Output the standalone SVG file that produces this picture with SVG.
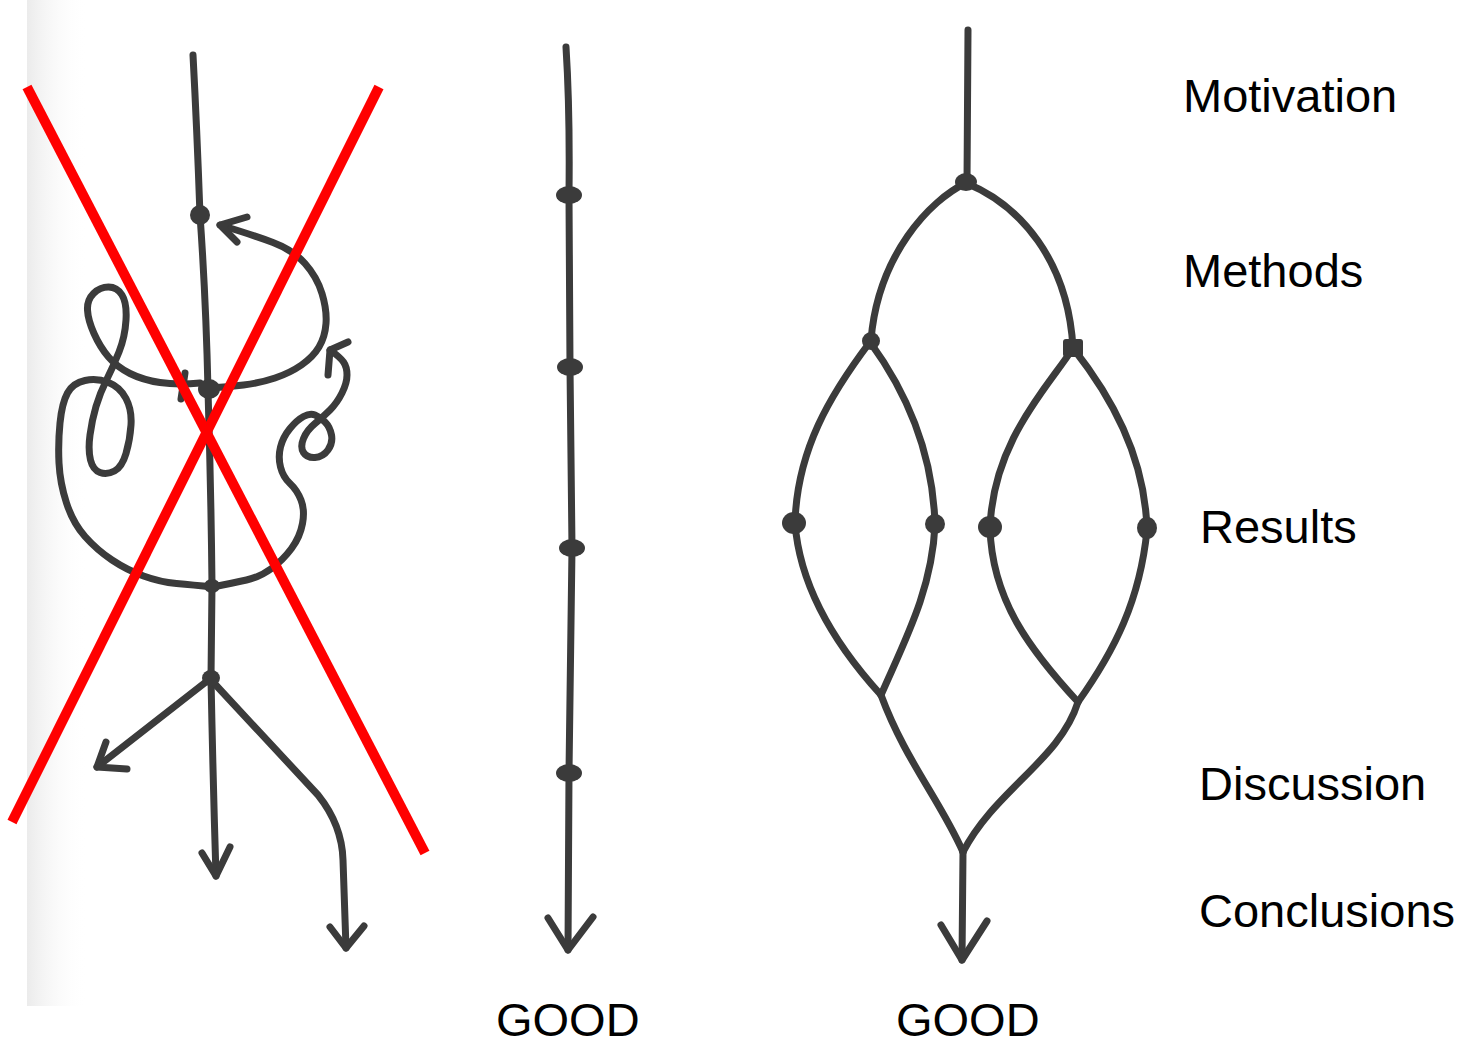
<svg xmlns="http://www.w3.org/2000/svg" width="1470" height="1044" viewBox="0 0 1470 1044">
<defs>
<linearGradient id="scan" x1="0" y1="0" x2="1" y2="0">
<stop offset="0" stop-color="#ebebeb"/>
<stop offset="1" stop-color="#ffffff" stop-opacity="0"/>
</linearGradient>
<style>
.ln{fill:none;stroke:#3b3b3b;stroke-width:7;stroke-linecap:round;stroke-linejoin:round}
.dot{fill:#3b3b3b}
.red{fill:none;stroke:#ff0000;stroke-width:10}
.lbl{font-family:"Liberation Sans",Arial,sans-serif;font-size:47px;fill:#000}
</style>
</defs>
<rect width="1470" height="1044" fill="#fff"/>
<rect x="27" y="0" width="60" height="1006" fill="url(#scan)"/>

<g id="connectors">
<g id="bad-connectors">
<path class="ln" d="M193,55 Q197,130 200,215 Q206,300 208,390 Q211,490 212,585 L211,678 Q213,780 216,876"/>
<path class="ln" d="M202,853 L216,876 L230,847"/>
<path class="ln" d="M211,678 L97,767"/>
<path class="ln" d="M106,742 L97,767 L127,769"/>
<path class="ln" d="M213,682 L318,795 Q342,825 343,860 L346,948"/>
<path class="ln" d="M330,927 L346,948 L364,926"/>
<path class="ln" d="M220,225 Q253,235 273,242.5 Q293,250 305,263.5 Q317,277 322,293.5 Q327,310 326,323.5 Q325,337 319,347 Q313,357 301.5,365 Q290,373 275,378 Q260,383 243.5,385 Q227,387 210,388"/>
<path class="ln" d="M247,217 L220,225 L237,242"/>
<path class="ln" d="M200,383 Q177,385 160,382.5 Q143,380 130,373.5 Q117,367 108.5,357 Q100,347 94,333.5 Q88,320 87.5,310 Q87,300 93.5,293.5 Q100,287 108.5,287 Q117,287 122,295 Q127,303 126,320 Q125,337 119,352 Q113,367 106.5,380 Q100,393 96,406.5 Q92,420 90,435 Q88,450 90.5,460 Q93,470 100,472.5 Q107,475 114.5,471 Q122,467 126,453.5 Q130,440 131,425 Q132,410 126,398.5 Q120,387 108.5,382.5 Q97,378 85,380.5 Q73,383 67.5,393 Q62,403 60,423 Q58,443 59,463 Q60,483 66.5,503 Q73,523 85,536.5 Q97,550 112,560 Q127,570 143.5,576 Q160,582 176.5,583.5 Q193,585 213,587"/>
<path class="ln" d="M185,373 L181,399"/>
<path class="ln" d="M213,587 Q233,583 246.5,580 Q260,577 271.5,568.5 Q283,560 291.5,548.5 Q300,537 302.5,523.5 Q305,510 301,500 Q297,490 290,483.5 Q283,477 280.5,467 Q278,457 280.5,447 Q283,437 290,428.5 Q297,420 303.5,416.5 Q310,413 315,415 Q320,417 325,422 Q330,427 331.5,435 Q333,443 328,450 Q323,457 315,457.5 Q307,458 303.5,452.5 Q300,447 303.5,438.5 Q307,430 315,423.5 Q323,417 330,410 Q337,403 342,393 Q347,383 347,375 Q347,367 343.5,362 Q340,357 330,350"/>
<path class="ln" d="M328,375 L330,350 L348,342"/>
</g>
<g id="linear-connectors">
<path class="ln" d="M566,47 Q570,110 569,195 L570,367 L572,548 L569,773 L568,950"/>
<path class="ln" d="M548,918 L568,950 L593,917"/>
</g>
<g id="branch-connectors">
<path class="ln" d="M968,30 L967,182"/>
<path class="ln" d="M966,183 C930,200 878,255 871,340"/>
<path class="ln" d="M966,183 C1020,205 1068,260 1073,348"/>
<path class="ln" d="M870,342 C830,395 797,450 795,523"/>
<path class="ln" d="M870,342 C905,390 933,450 935,525"/>
<path class="ln" d="M1073,348 C1050,385 993,440 990,528"/>
<path class="ln" d="M1073,348 C1110,395 1145,455 1147,530"/>
<path class="ln" d="M795,523 C800,590 840,650 881,695"/>
<path class="ln" d="M935,525 C932,590 905,640 881,695"/>
<path class="ln" d="M990,528 C992,600 1030,650 1078,702"/>
<path class="ln" d="M1147,530 C1140,600 1115,650 1078,702"/>
<path class="ln" d="M881,695 C905,760 940,800 963,852"/>
<path class="ln" d="M1078,702 C1060,760 995,790 963,852"/>
<path class="ln" d="M963,852 L962,960"/>
<path class="ln" d="M941,925 L962,960 L987,921"/>
</g>
</g>

<g id="bad-nodes">
<g id="bad-n1"><ellipse class="dot" cx="200" cy="215" rx="10" ry="10"/></g>
<g id="bad-n2"><ellipse class="dot" cx="209" cy="389" rx="11" ry="10"/></g>
<g id="bad-n3"><ellipse class="dot" cx="212" cy="586" rx="8" ry="7"/></g>
<g id="bad-n4"><ellipse class="dot" cx="211" cy="678" rx="9" ry="8"/></g>
</g>

<g id="linear-nodes">
<g id="lin-n1"><ellipse class="dot" cx="569" cy="195" rx="13" ry="9"/></g>
<g id="lin-n2"><ellipse class="dot" cx="570" cy="367" rx="13" ry="9"/></g>
<g id="lin-n3"><ellipse class="dot" cx="572" cy="548" rx="13" ry="9"/></g>
<g id="lin-n4"><ellipse class="dot" cx="569" cy="773" rx="13" ry="9"/></g>
</g>

<g id="branch-nodes">
<g id="br-top"><ellipse class="dot" cx="966" cy="182" rx="11" ry="9"/></g>
<g id="br-left"><ellipse class="dot" cx="871" cy="341" rx="9" ry="9"/></g>
<g id="br-right"><rect class="dot" x="1063" y="339" width="20" height="18" rx="3"/></g>
<g id="br-r1"><ellipse class="dot" cx="794" cy="523" rx="12" ry="11"/></g>
<g id="br-r2"><ellipse class="dot" cx="935" cy="524" rx="10" ry="10"/></g>
<g id="br-r3"><ellipse class="dot" cx="990" cy="527" rx="12" ry="11"/></g>
<g id="br-r4"><ellipse class="dot" cx="1147" cy="528" rx="10" ry="11"/></g>
</g>

<g id="cross">
<line class="red" x1="27" y1="87" x2="425" y2="853"/>
<line class="red" x1="379" y1="87" x2="12" y2="822"/>
</g>

<g id="labels">
<text class="lbl" x="1183" y="112">Motivation</text>
<text class="lbl" x="1183" y="287">Methods</text>
<text class="lbl" x="1200" y="543">Results</text>
<text class="lbl" x="1199" y="800">Discussion</text>
<text class="lbl" x="1199" y="927">Conclusions</text>
<text class="lbl" x="496" y="1036">GOOD</text>
<text class="lbl" x="896" y="1036">GOOD</text>
</g>
</svg>
